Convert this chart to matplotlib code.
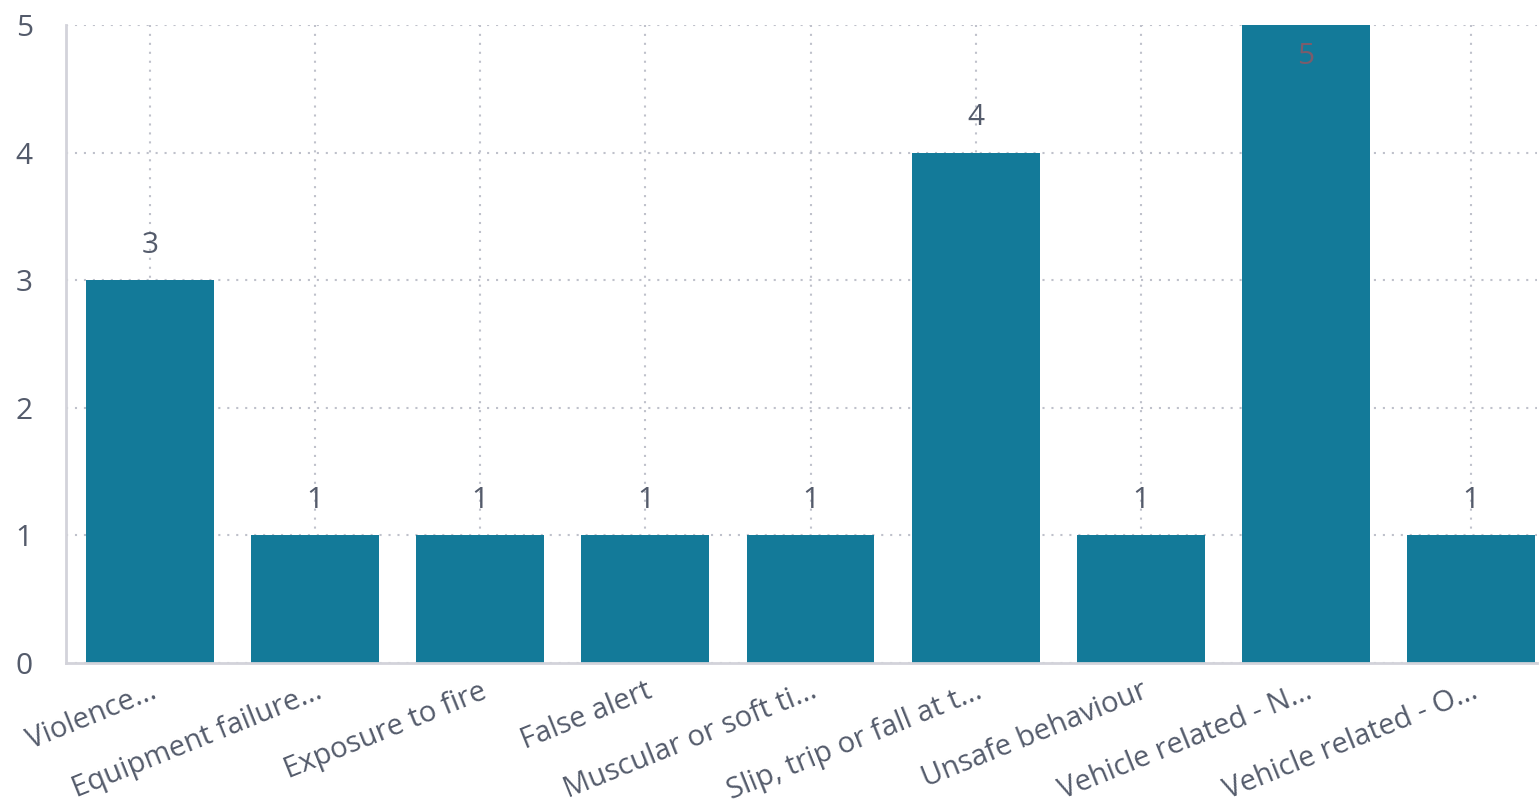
import matplotlib
matplotlib.use("Agg")
import matplotlib.pyplot as plt
import numpy as np

plt.rcParams['font.family'] = ['Open Sans', 'DejaVu Sans']

categories = ['Violence...', 'Equipment failure...', 'Exposure to fire', 'False alert',
              'Muscular or soft ti...', 'Slip, trip or fall at t...', 'Unsafe behaviour',
              'Vehicle related - N...', 'Vehicle related - O...']
counts = [3, 1, 1, 1, 1, 4, 1, 5, 1]
y_ticks = [0, 1, 2, 3, 4, 5]

bar_col = '#137a99'
text_col = '#545b6b'
grid_col = '#bfc1cb'

fig = plt.figure(figsize=(15.39, 8.08), dpi=100)
ax = fig.add_axes([0.0429, 0.1795, 0.9558, 0.7896])

x = np.arange(len(categories))
bars = ax.bar(x, counts, width=0.775, color=bar_col, zorder=2)

ax.set_xlim(-0.509, len(categories) - 0.6)
ax.set_ylim(0, 5)
ax.set_yticks(y_ticks)
ax.set_xticks(x)
ax.set_xticklabels(categories, rotation=22, ha='right', va='top', rotation_mode='anchor')

ax.grid(True, color=grid_col, linestyle=(0, (1, 3.3)), linewidth=1.5, zorder=0)
for s in ['top', 'right']:
    ax.spines[s].set_visible(False)
for s in ['left', 'bottom']:
    ax.spines[s].set_color('#d3d3da')
    ax.spines[s].set_linewidth(2)

ax.tick_params(axis='y', length=0, pad=24, labelsize=21.5, labelcolor=text_col)
ax.tick_params(axis='x', length=0, pad=10, labelsize=21, labelcolor=text_col)

ymax = max(counts)
for b, v in zip(bars, counts):
    cx = b.get_x() + b.get_width() / 2
    if v == ymax:
        ax.annotate(str(v), (cx, v), xytext=(0, -23), textcoords='offset points',
                    ha='center', va='center', fontsize=21.5, color='#7b5c6b')
    else:
        ax.annotate(str(v), (cx, v), xytext=(0, 25), textcoords='offset points',
                    ha='center', va='center', fontsize=21.5, color=text_col)

fig.savefig('out.png', dpi=100)
